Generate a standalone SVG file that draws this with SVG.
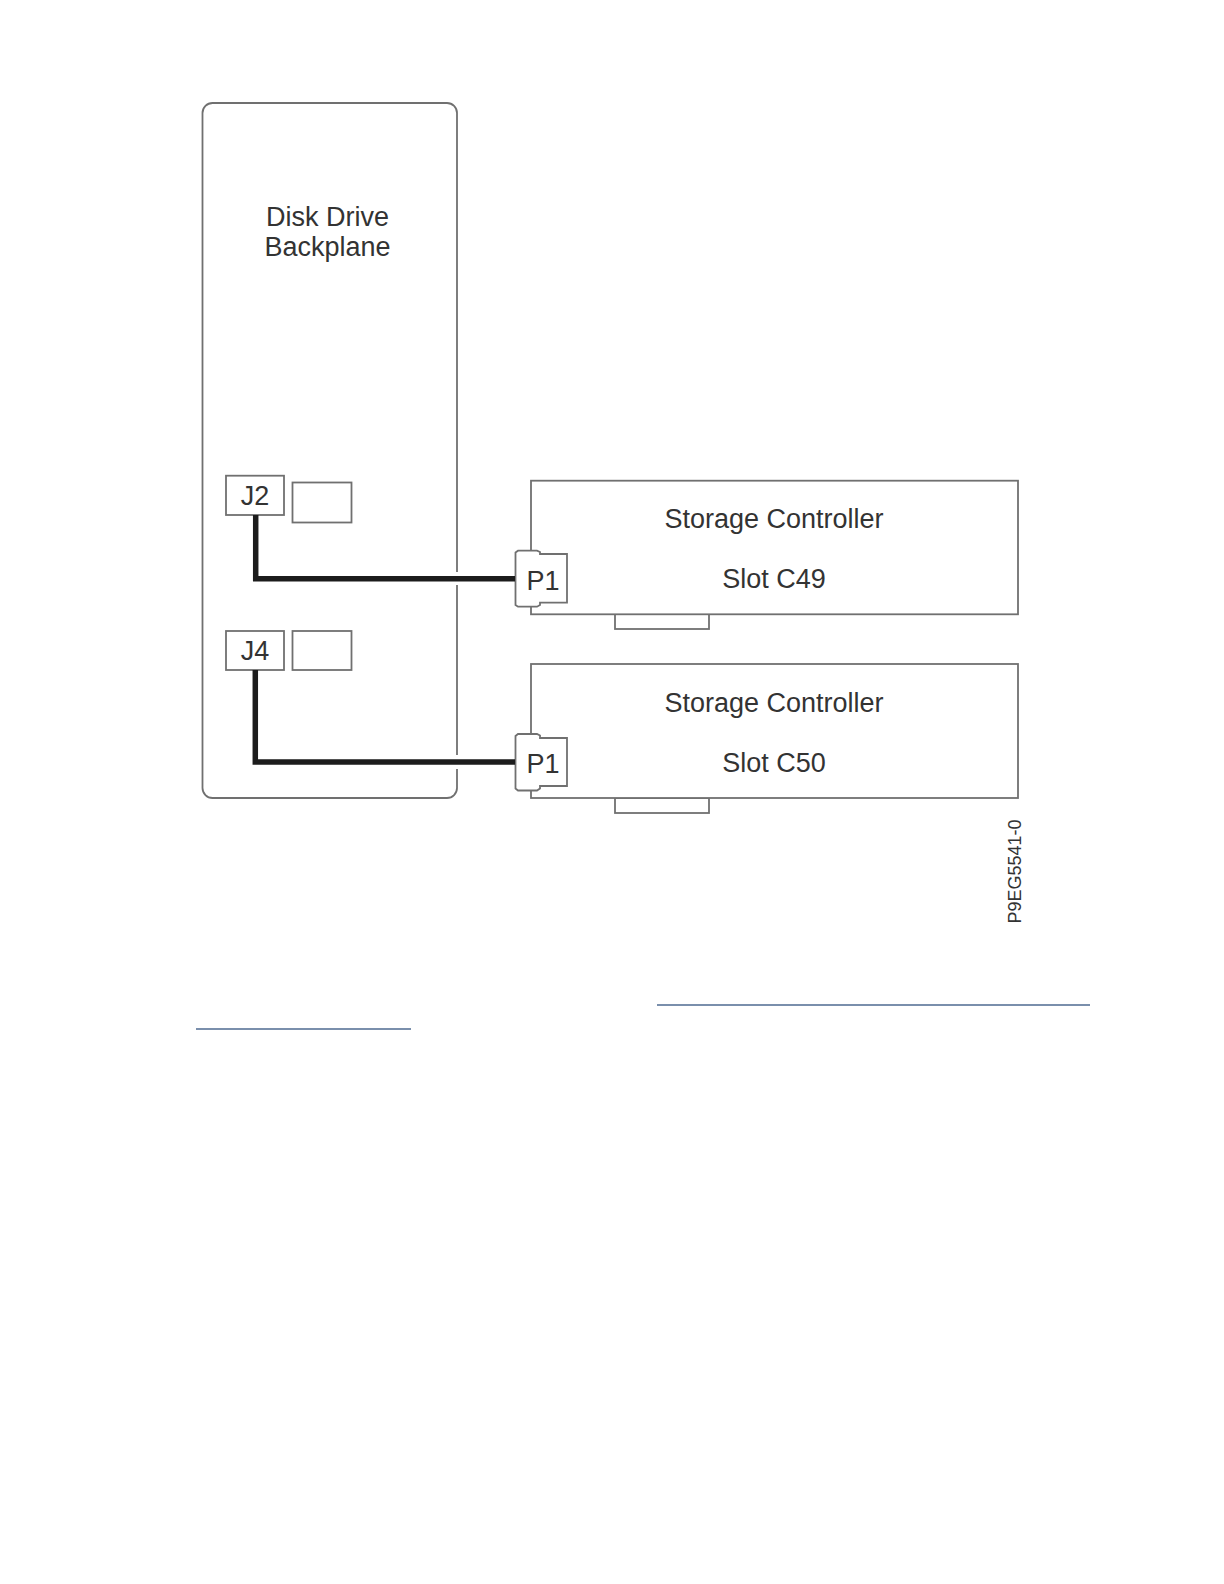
<svg xmlns="http://www.w3.org/2000/svg" width="1224" height="1584" viewBox="0 0 1224 1584">
<style>
.b{fill:#fff;stroke:#707070;stroke-width:1.8}
.t{font-family:"Liberation Sans",Arial,sans-serif;font-size:27px;fill:#333;text-anchor:middle}
.c{fill:none;stroke:#1c1c1c;stroke-width:5.5;stroke-linejoin:miter}
.g{stroke:#fff;stroke-width:3;fill:none}
.l{stroke:#4f6b91;stroke-width:1.3;fill:none}
</style>
<rect width="1224" height="1584" fill="#fff"/>
<g id="backplane"><rect class="b" x="202.5" y="103" width="254.5" height="695" rx="10" ry="10"/><text class="t" x="327.5" y="226">Disk Drive</text><text class="t" x="327.5" y="256">Backplane</text></g>
<g id="J2"><rect class="b" x="226" y="475.7" width="58" height="39.3"/><text class="t" x="255" y="505">J2</text></g>
<g id="blank1"><rect class="b" x="292.5" y="482.5" width="59" height="40"/></g>
<g id="J4"><rect class="b" x="226" y="631" width="58" height="39"/><text class="t" x="255" y="660">J4</text></g>
<g id="blank2"><rect class="b" x="292.5" y="631" width="59" height="39"/></g>
<g id="controller1"><rect class="b" x="615" y="614" width="94" height="15"/><rect class="b" x="531" y="480.7" width="487" height="133.6"/><text class="t" x="774" y="528">Storage Controller</text><text class="t" x="774" y="588">Slot C49</text></g>
<g id="controller2"><rect class="b" x="615" y="798" width="94" height="15"/><rect class="b" x="531" y="664" width="487" height="134"/><text class="t" x="774" y="712">Storage Controller</text><text class="t" x="774" y="772">Slot C50</text></g>
<g id="P1a"><path class="b" d="M515.5 552.5L518 550.7H537L540 552V554H567V602.7H540V605L537 606.7H518L515.5 605Z"/><text class="t" x="543" y="590">P1</text></g>
<g id="P1b"><path class="b" d="M515.5 736L518 734H537L540 735.5V738H567V786H540V788.5L537 790.5H518L515.5 788.5Z"/><text class="t" x="543" y="773">P1</text></g>
<g id="connectors"><path class="g" d="M457 572V585M457 755V769"/><path class="c" d="M255.7 515V578.7H515"/><path class="c" d="M255.3 670V762H515"/></g>
<text class="t" style="font-size:18px" transform="translate(1021 871.5) rotate(-90)">P9EG5541-0</text>
<path class="l" d="M657 1005H1090M196 1029H411"/>
</svg>
